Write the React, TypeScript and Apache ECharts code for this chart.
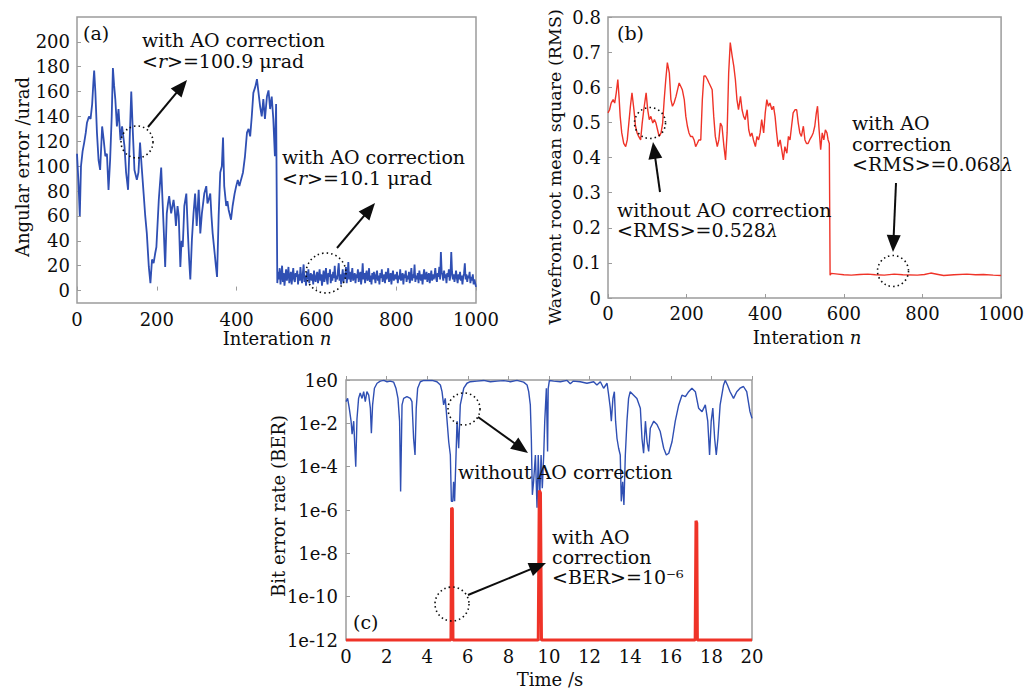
import React, { useEffect, useRef } from "react";
import * as echarts from "echarts";

// ---------- Panel (a): angular error (µrad) vs iteration ----------
const A_PRE_N = [0, 4, 7, 10, 14, 18, 22, 25, 30, 34, 38, 41, 43, 46, 50, 54, 58, 63, 67, 71, 75, 79, 83, 87, 90, 93, 96, 100, 104, 109, 113, 119, 123, 128, 132, 136, 140, 144, 150, 154, 158, 162, 167, 171, 175, 180, 184, 188, 192, 196, 199, 205, 211, 214, 217, 221, 225, 228, 231, 236, 242, 245, 248, 252, 255, 259, 262, 265, 269, 274, 278, 281, 284, 288, 292, 296, 300, 305, 309, 313, 316, 319, 324, 327, 330, 334, 337, 340, 345, 348, 351, 355, 359, 363, 366, 369, 374, 377, 380, 386, 390, 395, 399, 403, 407, 411, 416, 421, 426, 430, 434, 438, 442, 447, 451, 455, 459, 463, 467, 471, 476, 480, 484, 488, 492, 496, 499];
const A_PRE_V = [110, 85, 60, 100, 112, 119, 127, 135, 140, 138, 150, 167, 177, 160, 127, 105, 97, 132, 121, 108, 110, 81, 105, 140, 179, 165, 154, 132, 146, 121, 132, 116, 95, 81, 121, 160, 127, 97, 89, 95, 119, 100, 78, 60, 46, 19, 6, 25, 22, 30, 35, 73, 99, 75, 52, 19, 62, 70, 76, 62, 73, 65, 52, 68, 60, 19, 40, 35, 68, 78, 46, 25, 9, 41, 62, 78, 52, 81, 46, 62, 70, 78, 84, 70, 73, 78, 60, 46, 30, 20, 11, 60, 95, 100, 123, 84, 68, 72, 65, 57, 68, 78, 84, 89, 84, 89, 95, 108, 127, 130, 124, 140, 159, 164, 170, 159, 148, 140, 154, 138, 156, 161, 146, 156, 138, 108, 150];
const A_POST_START = 502;
const A_POST_STEP = 2;
const A_POST_V = [
  6, 15, 9, 18, 5, 12, 20, 7, 14, 4, 11, 17, 8, 13, 19, 6, 10, 15, 5, 12, 18, 9, 7, 14, 11,
  16, 5, 13, 8, 19, 10, 6, 14, 21, 7, 12, 4, 15, 9, 17, 6, 11, 14, 8, 13, 5, 16, 10, 7, 12,
  15, 6, 11, 17, 8, 13, 4, 10, 16, 7, 12, 18, 9, 5, 14, 11, 17, 6, 13, 8, 15, 10, 20, 7, 12,
  9, 16, 22, 8, 13, 5, 11, 17, 7, 14, 10, 19, 6, 12, 23, 9, 15, 7, 12, 18, 8, 11, 14, 6, 13,
  10, 17, 7, 12, 15, 5, 11, 22, 9, 14, 6, 13, 16, 8, 10, 18, 7, 12, 5, 14, 9, 15, 11, 6, 13,
  16, 8, 12, 5, 14, 10, 17, 7, 11, 13, 6, 15, 9, 12, 18, 7, 10, 14, 5, 12, 16, 8, 11, 13, 9,
  15, 6, 12, 9, 17, 8, 11, 14, 5, 13, 10, 16, 7, 12, 9, 15, 6, 11, 18, 8, 13, 10, 21, 7, 12,
  9, 14, 6, 16, 11, 8, 13, 5, 12, 17, 9, 10, 15, 7, 12, 14, 6, 11, 16, 8, 13, 9, 12, 18, 10,
  7, 14, 11, 19, 9, 31, 15, 12, 8, 16, 10, 13, 6, 14, 11, 17, 8, 12, 31, 15, 9, 13, 7, 11, 16,
  10, 6, 13, 9, 15, 8, 12, 5, 11, 14, 22, 9, 13, 7, 12, 10, 15, 6, 11, 8, 13, 5, 9, 6, 3,
];
const A_Y_TICKS = [0, 20, 40, 60, 80, 100, 120, 140, 160, 180, 200];

// ---------- Panel (b): wavefront RMS vs iteration ----------
const B_N = [0, 4, 8, 13, 17, 21, 25, 28, 31, 35, 40, 45, 49, 53, 57, 61, 66, 70, 74, 78, 83, 87, 91, 97, 101, 105, 109, 114, 118, 122, 126, 130, 135, 139, 143, 147, 151, 156, 160, 164, 168, 173, 177, 181, 185, 189, 194, 198, 202, 206, 210, 215, 219, 223, 227, 231, 236, 240, 244, 248, 253, 257, 261, 265, 269, 273, 278, 282, 286, 290, 295, 299, 303, 307, 311, 316, 320, 324, 328, 332, 337, 341, 345, 349, 354, 358, 362, 366, 370, 375, 379, 383, 387, 391, 396, 400, 404, 408, 412, 417, 421, 425, 429, 433, 438, 442, 446, 450, 455, 459, 463, 467, 471, 476, 480, 484, 488, 492, 497, 501, 505, 509, 513, 518, 522, 526, 530, 533, 537, 541, 545, 549, 553, 557, 560, 563, 565, 568, 585, 600, 619, 640, 661, 680, 703, 728, 750, 787, 805, 821, 840, 854, 880, 913, 935, 955, 980, 1000];
const B_V = [0.527, 0.536, 0.555, 0.565, 0.555, 0.584, 0.622, 0.574, 0.517, 0.47, 0.44, 0.431, 0.45, 0.498, 0.546, 0.584, 0.536, 0.489, 0.47, 0.46, 0.45, 0.498, 0.536, 0.584, 0.536, 0.508, 0.517, 0.498, 0.508, 0.498, 0.479, 0.46, 0.47, 0.498, 0.565, 0.622, 0.67, 0.641, 0.565, 0.546, 0.555, 0.574, 0.593, 0.612, 0.603, 0.593, 0.565, 0.517, 0.489, 0.47, 0.46, 0.46, 0.45, 0.431, 0.44, 0.45, 0.45, 0.565, 0.632, 0.632, 0.622, 0.612, 0.603, 0.593, 0.517, 0.46, 0.431, 0.45, 0.498, 0.489, 0.431, 0.393, 0.47, 0.641, 0.727, 0.688, 0.66, 0.622, 0.565, 0.536, 0.574, 0.536, 0.517, 0.508, 0.536, 0.479, 0.46, 0.47, 0.45, 0.431, 0.46, 0.45, 0.47, 0.508, 0.47, 0.527, 0.565, 0.546, 0.555, 0.536, 0.546, 0.517, 0.47, 0.431, 0.45, 0.422, 0.393, 0.431, 0.412, 0.46, 0.45, 0.489, 0.527, 0.536, 0.536, 0.498, 0.47, 0.46, 0.489, 0.45, 0.44, 0.44, 0.45, 0.46, 0.47, 0.489, 0.527, 0.546, 0.479, 0.422, 0.47, 0.45, 0.479, 0.47, 0.45, 0.44, 0.065, 0.07, 0.068, 0.066, 0.065, 0.067, 0.068, 0.066, 0.065, 0.068, 0.066, 0.065, 0.067, 0.071, 0.067, 0.064, 0.066, 0.068, 0.066, 0.067, 0.065, 0.064];

// ---------- Panel (c): BER (log10) vs time ----------
const C_BLUE_T = [0, 0.08, 0.16, 0.25, 0.3, 0.38, 0.43, 0.48, 0.54, 0.62, 0.7, 0.79, 0.87, 0.95, 1.03, 1.12, 1.2, 1.25, 1.31, 1.4, 1.53, 1.69, 1.86, 2.02, 2.18, 2.35, 2.46, 2.56, 2.64, 2.69, 2.76, 2.84, 3.0, 3.17, 3.25, 3.33, 3.4, 3.46, 3.53, 3.66, 3.83, 3.99, 4.24, 4.48, 4.65, 4.73, 4.81, 4.89, 4.98, 5.06, 5.14, 5.19, 5.26, 5.3, 5.35, 5.42, 5.47, 5.55, 5.63, 5.8, 5.96, 6.12, 6.45, 6.78, 7.11, 7.44, 7.77, 8.1, 8.42, 8.75, 8.92, 9.0, 9.08, 9.13, 9.18, 9.24, 9.33, 9.41, 9.47, 9.54, 9.61, 9.67, 9.74, 9.79, 9.87, 9.93, 9.96, 10.02, 10.23, 10.56, 10.89, 11.05, 11.2, 11.54, 11.87, 12.2, 12.36, 12.53, 12.69, 12.86, 12.94, 13.02, 13.07, 13.15, 13.22, 13.28, 13.35, 13.43, 13.51, 13.56, 13.63, 13.69, 13.76, 13.84, 13.92, 14.0, 14.17, 14.33, 14.5, 14.58, 14.66, 14.75, 14.83, 14.91, 14.99, 15.16, 15.32, 15.48, 15.65, 15.78, 15.9, 16.06, 16.22, 16.39, 16.55, 16.72, 16.88, 17.04, 17.21, 17.37, 17.54, 17.7, 17.82, 17.91, 17.99, 18.07, 18.16, 18.24, 18.32, 18.43, 18.6, 18.68, 18.79, 18.92, 19.09, 19.25, 19.41, 19.58, 19.74, 19.9, 20];
const C_BLUE_E = [-1.0, -0.85, -1.3, -1.9, -2.5, -1.9, -3.0, -4.0, -1.8, -0.85, -0.6, -0.85, -0.54, -1.0, -0.54, -0.7, -1.3, -2.46, -1.15, -0.38, -0.15, -0.05, -0.02, -0.08, -0.05, -0.1, -0.38, -0.85, -1.9, -5.15, -1.15, -0.85, -0.77, -0.85, -1.0, -2.7, -3.46, -1.3, -0.38, -0.08, -0.02, -0.02, -0.02, -0.08, -0.23, -0.54, -1.15, -0.85, -1.9, -2.85, -3.46, -5.6, -5.6, -4.7, -5.6, -3.46, -1.9, -3.15, -1.15, -0.38, -0.15, -0.08, -0.05, -0.02, -0.08, -0.05, -0.03, -0.08, -0.02, -0.1, -0.23, -0.54, -1.15, -2.7, -5.3, -4.7, -3.46, -5.9, -3.46, -5.46, -3.46, -5.0, -3.46, -1.9, -0.38, -3.3, -0.4, -0.02, -0.05, -0.08, -0.02, -0.17, -0.05, -0.08, -0.15, -0.08, -0.23, -0.08, -0.38, -0.15, -0.7, -1.3, -1.9, -0.85, -0.54, -1.9, -2.7, -3.15, -3.46, -5.6, -4.7, -5.77, -3.46, -1.9, -0.85, -0.54, -0.7, -0.85, -1.3, -2.7, -3.38, -1.9, -2.85, -3.3, -2.23, -1.9, -2.05, -2.38, -3.15, -3.46, -3.38, -2.85, -1.9, -1.15, -0.7, -0.77, -0.54, -0.38, -0.54, -1.3, -1.46, -1.15, -1.9, -3.46, -1.9, -1.3, -2.7, -3.46, -2.7, -1.15, -0.23, -0.02, -0.23, -0.54, -0.85, -0.54, -0.38, -0.3, -0.54, -1.46, -1.77];
const C_RED_T = [0, 5.17, 5.2, 5.24, 5.27, 9.47, 9.52, 9.58, 9.63, 17.2, 17.24, 17.28, 17.31, 20];
const C_RED_E = [-12, -12, -5.9, -5.95, -12, -12, -5.1, -5.2, -12, -12, -6.5, -6.6, -12, -12];

const FONT = '"DejaVu Serif", "Liberation Serif", serif';
const BLUE = "#2f4fb3";
const RED = "#ef3328";
const INK = "#0d0d0d";
const FRAME = "#9c9c9c";
const TICK_FS = 18;
const ANN_FS = 19;
const TITLE_FS = 18;

function zip(xs: number[], ys: number[]) {
  return xs.map((x, i) => [x, ys[i]]);
}

function arrow(x1: number, y1: number, x2: number, y2: number) {
  const dx = x2 - x1;
  const dy = y2 - y1;
  const len = Math.sqrt(dx * dx + dy * dy);
  const ux = dx / len;
  const uy = dy / len;
  const hl = 17;
  const hw = 7;
  const bx = x2 - ux * hl;
  const by = y2 - uy * hl;
  return [
    {
      type: "line",
      z: 100,
      shape: { x1, y1, x2: bx + ux * 2, y2: by + uy * 2 },
      style: { stroke: INK, lineWidth: 2 },
    },
    {
      type: "polygon",
      z: 100,
      shape: {
        points: [
          [x2, y2],
          [bx - uy * hw, by + ux * hw],
          [bx + uy * hw, by - ux * hw],
        ],
      },
      style: { fill: INK },
    },
  ];
}

function circ(cx: number, cy: number, r: number) {
  return {
    type: "circle",
    z: 100,
    shape: { cx, cy, r },
    style: { fill: "none", stroke: INK, lineWidth: 1.6, lineDash: [1.5, 3] },
  };
}

function txt(x: number, y: number, text: string, opts: any = {}) {
  const fs = opts.fontSize || ANN_FS;
  return {
    type: "text",
    z: 100,
    x,
    y,
    rotation: opts.rotation || 0,
    style: {
      text,
      fontFamily: FONT,
      fontSize: fs,
      fill: INK,
      align: opts.align || "left",
      verticalAlign: "middle",
      rich: { i: { fontStyle: "italic", fontFamily: FONT, fontSize: fs, fill: INK } },
    },
  };
}

function xAxisCfg(gridIndex: number, min: number, max: number, interval: number, margin: number) {
  return {
    type: "value",
    gridIndex,
    min,
    max,
    interval,
    axisLine: { show: false },
    axisTick: { show: true, inside: true, length: 4, lineStyle: { color: FRAME } },
    axisLabel: { fontFamily: FONT, fontSize: TICK_FS, color: INK, margin, formatter: (v: number) => String(v) },
    splitLine: { show: false },
  };
}

export default function App() {
  const ref = useRef<HTMLDivElement>(null);
  useEffect(() => {
    if (!ref.current) return;
    const chart = echarts.init(ref.current, null, { renderer: "svg" });

    const aData = zip(A_PRE_N, A_PRE_V).concat(
      A_POST_V.map((v, i) => [A_POST_START + i * A_POST_STEP, v])
    );
    const bData = zip(B_N, B_V);
    const cBlue = zip(C_BLUE_T, C_BLUE_E);
    const cRed = zip(C_RED_T, C_RED_E);

    const gridBase = { show: true, borderColor: FRAME, borderWidth: 1.5, backgroundColor: "transparent", containLabel: false };

    const graphics: any[] = [
      // panel (a)
      txt(83, 33, "(a)"),
      txt(142, 40, "with AO correction"),
      txt(142, 61, "<{i|r}>=100.9 μrad"),
      txt(282, 157, "with AO correction"),
      txt(282, 178, "<{i|r}>=10.1 μrad"),
      circ(137, 142, 16),
      circ(326, 273, 20),
      ...arrow(148, 127, 187, 80),
      ...arrow(337, 248, 375, 203),
      txt(22, 167, "Angular error /urad", { rotation: Math.PI / 2, align: "center", fontSize: TITLE_FS }),
      txt(277, 338, "Interation {i|n}", { align: "center", fontSize: TITLE_FS }),
      // panel (b)
      txt(617, 33, "(b)"),
      txt(617, 210, "without AO correction"),
      txt(617, 230, "<RMS>=0.528{i|λ}"),
      txt(852, 123, "with AO"),
      txt(852, 144, "correction"),
      txt(852, 164, "<RMS>=0.068{i|λ}"),
      circ(650, 123, 15.5),
      circ(893, 271, 15.5),
      ...arrow(660, 192, 653, 142),
      ...arrow(896, 183, 893, 252),
      txt(555, 167, "Wavefront root mean square (RMS)", { rotation: Math.PI / 2, align: "center", fontSize: 17.5 }),
      txt(807, 337, "Interation {i|n}", { align: "center", fontSize: TITLE_FS }),
      // panel (c)
      txt(353, 622, "(c)"),
      txt(458, 472, "without AO correction"),
      txt(552, 537, "with AO"),
      txt(552, 557, "correction"),
      txt(552, 577, "<BER>=10⁻⁶"),
      circ(464, 409, 16),
      circ(452, 604, 17),
      ...arrow(478, 417, 528, 453),
      ...arrow(468, 595, 546, 563),
      txt(278, 506, "Bit error rate (BER)", { rotation: Math.PI / 2, align: "center", fontSize: TITLE_FS }),
      txt(550, 679, "Time /s", { align: "center", fontSize: TITLE_FS }),
    ];

    chart.setOption({
      animation: false,
      backgroundColor: "#ffffff",
      grid: [
        { ...gridBase, left: 77, top: 17, width: 399, height: 286 },
        { ...gridBase, left: 608, top: 17, width: 396, height: 281 },
        { ...gridBase, left: 346, top: 380, width: 406, height: 260 },
      ],
      xAxis: [
        xAxisCfg(0, 0, 1000, 200, 7),
        xAxisCfg(1, 0, 1000, 200, 6),
        xAxisCfg(2, 0, 20, 2, 7),
      ],
      yAxis: [
        {
          type: "value",
          gridIndex: 0,
          min: -10,
          max: 220,
          axisLine: { show: false },
          axisTick: { show: true, inside: true, length: 4, lineStyle: { color: FRAME }, customValues: A_Y_TICKS },
          axisLabel: { fontFamily: FONT, fontSize: TICK_FS, color: INK, margin: 7, customValues: A_Y_TICKS },
          splitLine: { show: false },
        },
        {
          type: "value",
          gridIndex: 1,
          min: 0,
          max: 0.8,
          interval: 0.1,
          axisLine: { show: false },
          axisTick: { show: true, inside: true, length: 4, lineStyle: { color: FRAME } },
          axisLabel: {
            fontFamily: FONT,
            fontSize: TICK_FS,
            color: INK,
            margin: 7,
            formatter: (v: number) => (Math.round(v * 10) / 10).toString(),
          },
          splitLine: { show: false },
        },
        {
          type: "value",
          gridIndex: 2,
          min: -12,
          max: 0,
          interval: 2,
          axisLine: { show: false },
          axisTick: { show: true, inside: true, length: 4, lineStyle: { color: FRAME } },
          axisLabel: {
            fontFamily: FONT,
            fontSize: TICK_FS,
            color: INK,
            margin: 8,
            formatter: (v: number) => "1e" + Math.round(v),
          },
          splitLine: { show: false },
        },
      ],
      series: [
        {
          type: "line",
          xAxisIndex: 0,
          yAxisIndex: 0,
          data: aData,
          showSymbol: false,
          lineStyle: { color: BLUE, width: 1.8 },
        },
        {
          type: "line",
          xAxisIndex: 1,
          yAxisIndex: 1,
          data: bData,
          showSymbol: false,
          lineStyle: { color: RED, width: 1.4 },
        },
        {
          type: "line",
          xAxisIndex: 2,
          yAxisIndex: 2,
          data: cBlue,
          showSymbol: false,
          lineStyle: { color: BLUE, width: 1.4 },
        },
        {
          type: "line",
          xAxisIndex: 2,
          yAxisIndex: 2,
          data: cRed,
          showSymbol: false,
          clip: false,
          lineStyle: { color: RED, width: 3 },
        },
      ],
      graphic: graphics,
    });

    return () => chart.dispose();
  }, []);

  return (
    <div
      ref={ref}
      style={{ position: "fixed", left: 0, top: 0, width: 1027, height: 691, background: "#fff" }}
    />
  );
}
